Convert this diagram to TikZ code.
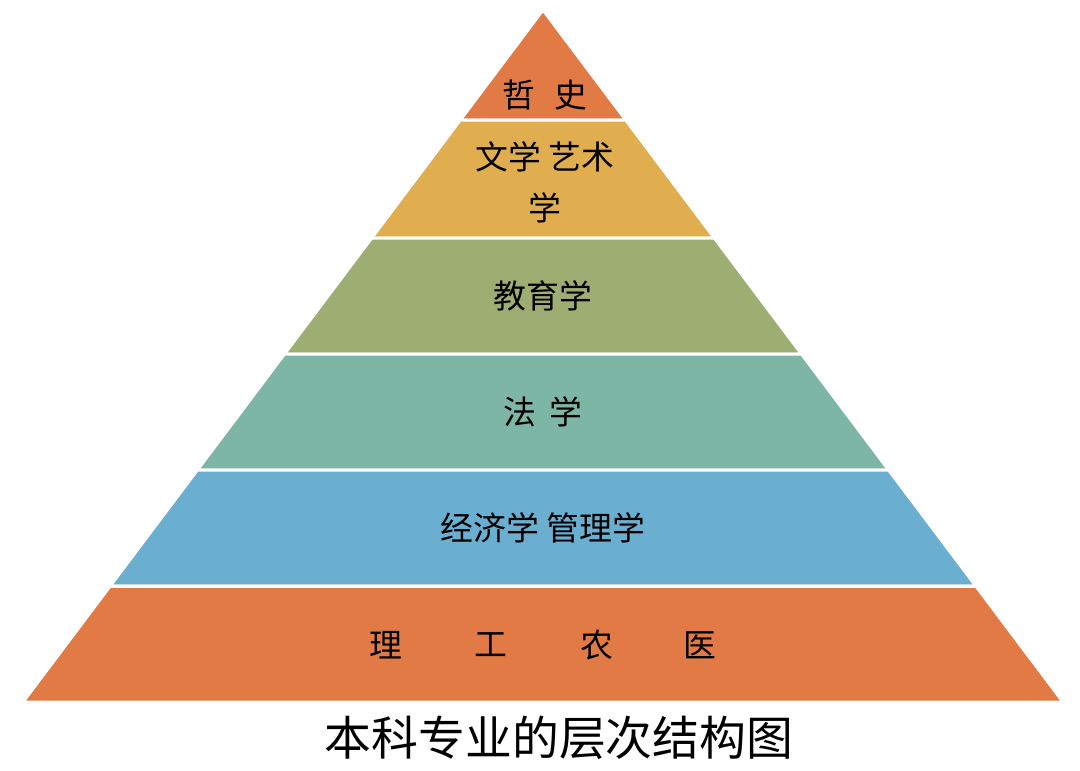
\documentclass[tikz,border=0pt]{standalone}
\usepackage{fontspec}
\newfontfamily\cjk{Noto Sans CJK SC}
\definecolor{cor}{HTML}{E27A45}
\definecolor{cye}{HTML}{E0AE4E}
\definecolor{col}{HTML}{9EAD72}
\definecolor{cte}{HTML}{7DB6A4}
\definecolor{cbl}{HTML}{6AAED0}
\tikzset{layer/.style={draw=white,line width=3bp},
lab/.style={font=\cjk\fontsize{33}{40}\selectfont,text=black,inner sep=0}}
\begin{document}
\begin{tikzpicture}[x=1bp,y=-1bp]
\useasboundingbox[fill=white] (0,0) rectangle (1080,771);
\fill[layer,fill=cor] (543,10) -- (625.7,120) -- (460.3,120) -- cycle;
\fill[layer,fill=cye] (460.3,120) -- (625.7,120) -- (714.3,238) -- (371.7,238) -- cycle;
\fill[layer,fill=col] (371.7,238) -- (714.3,238) -- (801.5,354) -- (284.5,354) -- cycle;
\fill[layer,fill=cte] (284.5,354) -- (801.5,354) -- (888.6,470) -- (197.4,470) -- cycle;
\fill[layer,fill=cbl] (197.4,470) -- (888.6,470) -- (975.8,586) -- (110.2,586) -- cycle;
\fill[layer,fill=cor] (110.2,586) -- (975.8,586) -- (1063,702) -- (23,702) -- cycle;
\draw[layer] (110.2,586) -- (975.8,586);
\node[lab] (t1) at (545,95) {哲\hspace{0.6em}史};
\node[lab] (t2) at (545,157) {文学 艺术};
\node[lab] (t2b) at (545,208) {学};
\node[lab] (t3) at (543,296) {教育学};
\node[lab] (t4) at (543,412) {法\hspace{0.4em}学};
\node[lab] (t5) at (543,528) {经济学 管理学};
\node[lab] (t6a) at (386,645) {理};
\node[lab] (t6b) at (491,645) {工};
\node[lab] (t6c) at (597,645) {农};
\node[lab] (t6d) at (700,645) {医};
\node[font=\cjk\fontsize{47}{56}\selectfont,inner sep=0] (title) at (559,738) {本科专业的层次结构图};
\end{tikzpicture}
\end{document}
